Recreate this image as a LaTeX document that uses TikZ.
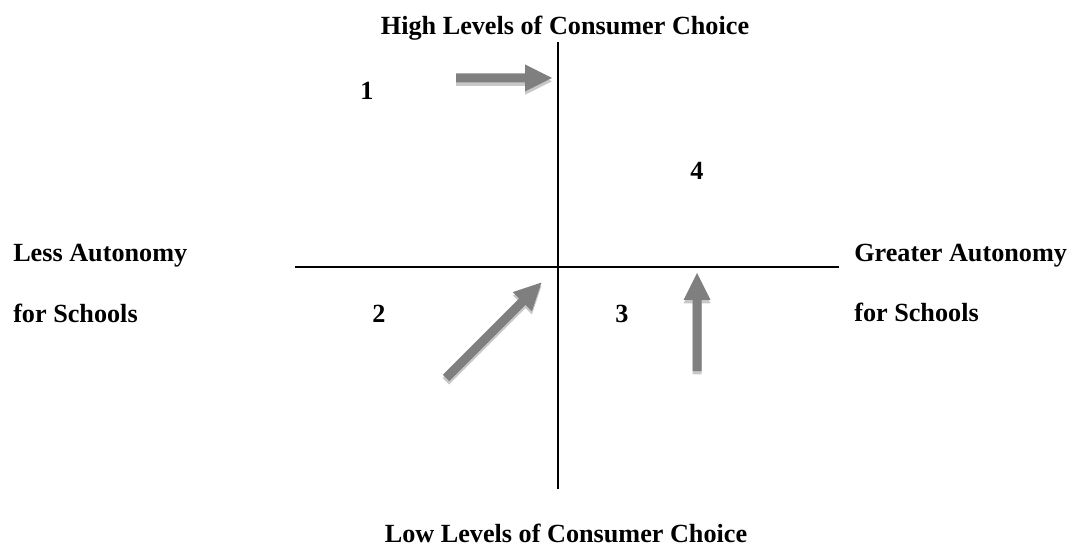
\documentclass[tikz,border=0pt]{standalone}
\usepackage{fontspec}
\setmainfont{Liberation Serif}
\begin{document}
\begin{tikzpicture}[x=0.75pt,y=-0.75pt,
  axis/.style={line width=1.5pt,black},
  lbl/.style={font=\bfseries\fontsize{19.65pt}{22pt}\selectfont,inner sep=0pt},
  arrowfill/.style={fill=arrowgray,draw=none},
  shadowfill/.style={fill=shadowgray,draw=none}]
\definecolor{arrowgray}{HTML}{7F7F7F}
\definecolor{shadowgray}{HTML}{C8C8C8}
\useasboundingbox (0,0) rectangle (1069,548);
\newcommand{\blockarrowshape}[1]{(0,-4.5) -- (#1-27,-4.5) -- (#1-27,-13.5) -- (#1,0) -- (#1-27,13.5) -- (#1-27,4.5) -- (0,4.5) -- cycle}
% axes
\coordinate (top) at (558,42);
\coordinate (bottom) at (558,489);
\coordinate (left) at (295,267);
\coordinate (right) at (839,267);
\draw[axis] (top) -- (bottom);
\draw[axis] (left) -- (right);
% arrows
\coordinate (a1) at (456,78);
\coordinate (a2) at (446,378);
\coordinate (a3) at (697,371);
\fill[shadowfill,shift={([yshift=-2.5pt]a1)},rotate=0] \blockarrowshape{96};
\fill[arrowfill,shift={(a1)},rotate=0] \blockarrowshape{96};
\fill[shadowfill,shift={([yshift=-2.5pt]a2)},rotate=45] \blockarrowshape{135};
\fill[arrowfill,shift={(a2)},rotate=45] \blockarrowshape{135};
\fill[shadowfill,shift={([yshift=-2.5pt]a3)},rotate=90] \blockarrowshape{98};
\fill[arrowfill,shift={(a3)},rotate=90] \blockarrowshape{98};
% labels
\node[lbl,anchor=base] (hi) at (565,35) {High Levels of Consumer Choice};
\node[lbl,anchor=base] (lo) at (566,542) {Low Levels of Consumer Choice};
\node[lbl,anchor=base west] (la) at (13,262) {Less Autonomy};
\node[lbl,anchor=base west] (ls) at (13,323) {for Schools};
\node[lbl,anchor=base west] (ga) at (854,262) {Greater Autonomy};
\node[lbl,anchor=base west] (gs) at (854,322) {for Schools};
\node[lbl,anchor=base] (q1) at (367,100) {1};
\node[lbl,anchor=base] (q4) at (697,180) {4};
\node[lbl,anchor=base] (q2) at (379,323) {2};
\node[lbl,anchor=base] (q3) at (622,323) {3};
\end{tikzpicture}
\end{document}
